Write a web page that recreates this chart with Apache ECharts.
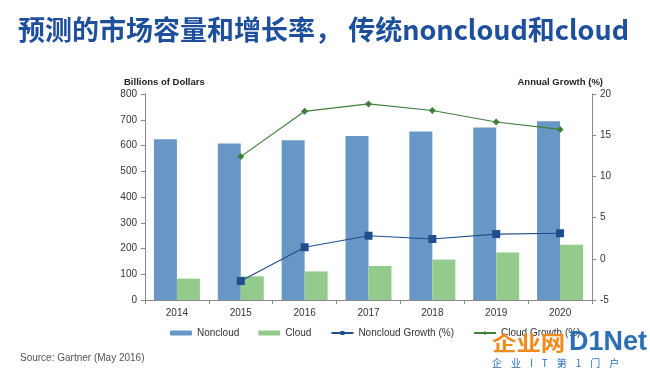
<!DOCTYPE html>
<html>
<head>
<meta charset="utf-8">
<script src="https://cdn.jsdelivr.net/npm/echarts@6/dist/echarts.min.js"></script>
<style>html,body{margin:0;padding:0;background:#fff}#c{width:650px;height:372px}</style>
</head>
<body>
<div id="c"></div>
<script>
var years = ['2014','2015','2016','2017','2018','2019','2020'];
var noncloud = [624, 608, 620, 637, 654, 670, 694];
var cloud = [83, 92, 111, 132, 157, 184, 215];
var noncloudGrowth = [null, -2.7, 1.4, 2.8, 2.4, 3.0, 3.1];
var cloudGrowth = [null, 12.4, 17.9, 18.8, 18.0, 16.6, 15.7];
var leftTicks = {min: 0, max: 800, interval: 100};
var rightTicks = {min: -5, max: 20, interval: 5};

var chart = echarts.init(document.getElementById('c'));
var font = 'Liberation Sans, Arial, sans-serif';
chart.setOption({
  animation: false,
  backgroundColor: '#fff',
  title: [
    {text: '预测的市场容量和增长率， 传统noncloud和cloud', left: 13, top: 11,
     textStyle: {fontFamily: 'Noto Sans CJK SC, sans-serif', fontSize: 27, fontWeight: 'bold', color: '#1E4F9C'}},
    {text: 'Billions of Dollars', left: 119, top: 72,
     textStyle: {fontFamily: font, fontSize: 9.5, fontWeight: 'bold', color: '#222'}},
    {text: 'Annual Growth (%)', right: 42, top: 72,
     textStyle: {fontFamily: font, fontSize: 9.5, fontWeight: 'bold', color: '#222'}},
    {text: 'Source: Gartner (May 2016)', left: 15, top: 348,
     textStyle: {fontFamily: font, fontSize: 10, fontWeight: 'normal', color: '#555'}}
  ],
  legend: {
    left: 165, top: 323, itemWidth: 22, itemHeight: 5, itemGap: 19,
    textStyle: {fontFamily: font, fontSize: 10, color: '#333'},
    data: ['Noncloud', 'Cloud', 'Noncloud Growth (%)', 'Cloud Growth (%)']
  },
  graphic: [
    {type: 'text', x: 492, y: 333, scaleX: 1.22, z: 100, style: {text: '企业网', font: 'bold 20px Noto Sans CJK SC', fill: '#F08A1C'}},
    {type: 'text', x: 569, y: 329, z: 100, style: {text: 'D1Net', font: 'bold 27px Liberation Sans', fill: '#2D6FB6'}},
    {type: 'text', x: 492, y: 358, z: 100, style: {text: '企    业    I    T    第    1    门    户', font: '10px Noto Sans CJK SC', fill: '#2D6FB6'}}
  ],
  grid: {left: 145, right: 58, top: 94, bottom: 72},
  xAxis: {
    type: 'category', data: years,
    axisLine: {lineStyle: {color: '#888'}},
    axisTick: {show: true, alignWithLabel: false, length: 4, lineStyle: {color: '#888'}},
    axisLabel: {fontFamily: font, fontSize: 10, color: '#333', margin: 8}
  },
  yAxis: [
    {type: 'value', min: leftTicks.min, max: leftTicks.max, interval: leftTicks.interval,
     splitLine: {show: false},
     axisLine: {show: true, lineStyle: {color: '#888'}},
     axisTick: {show: true, length: 4, lineStyle: {color: '#888'}},
     axisLabel: {fontFamily: font, fontSize: 10, color: '#333', margin: 8}},
    {type: 'value', min: rightTicks.min, max: rightTicks.max, interval: rightTicks.interval,
     splitLine: {show: false},
     axisLine: {show: true, lineStyle: {color: '#888'}},
     axisTick: {show: true, length: 4, inside: false, lineStyle: {color: '#888'}},
     axisLabel: {fontFamily: font, fontSize: 10, color: '#333', margin: 8}}
  ],
  series: [
    {name: 'Noncloud', type: 'bar', data: noncloud, barGap: '0%', barCategoryGap: '28%',
     itemStyle: {color: '#6897C6'}},
    {name: 'Cloud', type: 'bar', data: cloud, itemStyle: {color: '#93CB8D'}},
    {name: 'Noncloud Growth (%)', type: 'line', yAxisIndex: 1, data: noncloudGrowth,
     symbol: 'rect', symbolSize: 8, lineStyle: {color: '#1F4E8C', width: 1.2},
     itemStyle: {color: '#1F4E8C'}},
    {name: 'Cloud Growth (%)', type: 'line', yAxisIndex: 1, data: cloudGrowth,
     symbol: 'diamond', symbolSize: 7, lineStyle: {color: '#3F7F3A', width: 1.2},
     itemStyle: {color: '#3F7F3A'}}
  ]
});
</script>
</body>
</html>
